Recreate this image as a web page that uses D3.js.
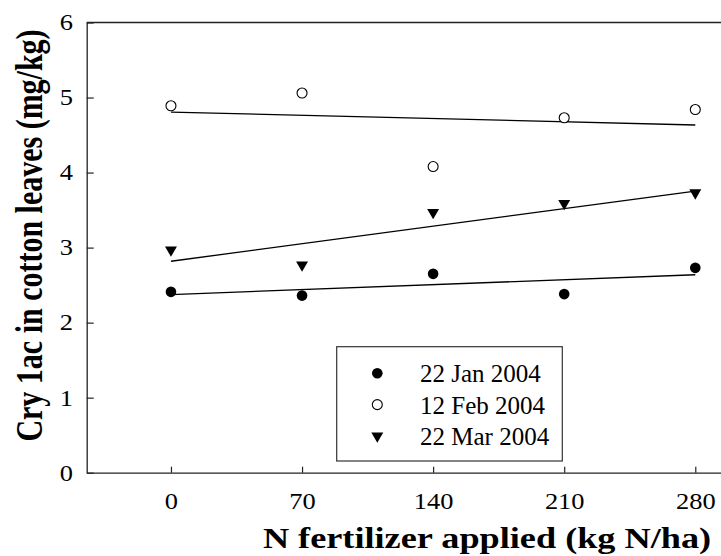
<!DOCTYPE html>
<html>
<head>
<meta charset="utf-8">
<script src="https://cdn.jsdelivr.net/npm/d3@7"></script>
<style>
  body { margin: 0; background: #fff; }
  svg { display: block; font-family: "Liberation Serif", "Times New Roman", serif; }
</style>
</head>
<body>
<div id="chart"></div>
<script>
// N rates and Cry1Ac readings per sampling date
var nRates = [0, 70, 140, 210, 280];
var jan22 = [2.41, 2.36, 2.65, 2.38, 2.73];
var feb12 = [4.89, 5.06, 4.08, 4.73, 4.84];
var mar22 = [2.95, 2.75, 3.45, 3.57, 3.71];
var seriesNames = ["22 Jan 2004", "12 Feb 2004", "22 Mar 2004"];
var xTicks = [0, 70, 140, 210, 280];
var yTicks = [0, 1, 2, 3, 4, 5, 6];

var width = 721, height = 556;
var sx = 1.15; // picture is a bit wider than tall

var svg = d3.select("#chart").append("svg")
    .attr("width", width)
    .attr("height", height);

var x = d3.scaleLinear().domain([-45, 305]).range([86.7, 742.1]);
var y = d3.scaleLinear().domain([0, 6]).range([472.7, 22.5]);

// least squares fit for trend lines
function fit(xs, ys) {
    var mx = d3.mean(xs), my = d3.mean(ys);
    var sxy = d3.sum(xs, function (d, i) { return (d - mx) * (ys[i] - my); });
    var sxx = d3.sum(xs, function (d) { return (d - mx) * (d - mx); });
    var b = sxy / sxx;
    return function (v) { return my + b * (v - mx); };
}

var series = [
    { name: seriesNames[0], values: jan22, shape: "filled" },
    { name: seriesNames[1], values: feb12, shape: "open" },
    { name: seriesNames[2], values: mar22, shape: "tri" }
];

// axes
var xAxis = svg.append("g")
    .attr("transform", "translate(0," + y(0) + ")")
    .call(d3.axisBottom(x).tickValues(xTicks).tickFormat(d3.format("d"))
        .tickSizeInner(-6).tickSizeOuter(0).tickPadding(20));
var yAxis = svg.append("g")
    .attr("transform", "translate(" + x.range()[0] + ",0)")
    .call(d3.axisLeft(y).tickValues(yTicks).tickFormat(d3.format("d"))
        .tickSizeInner(-7).tickSizeOuter(0).tickPadding(12));

[xAxis, yAxis].forEach(function (a) {
    a.select(".domain").attr("stroke", "#222").attr("stroke-width", 1.3);
    a.selectAll(".tick line").attr("stroke", "#222").attr("stroke-width", 1.2);
    a.selectAll(".tick text")
        .attr("fill", "#000")
        .style("font-size", "23px")
        .style("font-family", "Liberation Serif, Times New Roman, serif")
        .attr("transform", "scale(" + sx + ",1)");
});

// top border
svg.append("line")
    .attr("x1", x.range()[0]).attr("x2", width)
    .attr("y1", y(6)).attr("y2", y(6))
    .attr("stroke", "#222").attr("stroke-width", 1.3);

// trend lines
series.forEach(function (s) {
    var f = fit(nRates, s.values);
    svg.append("line")
        .attr("x1", x(nRates[0])).attr("y1", y(f(nRates[0])))
        .attr("x2", x(nRates[nRates.length - 1])).attr("y2", y(f(nRates[nRates.length - 1])))
        .attr("stroke", "#000").attr("stroke-width", 1.3);
});

var tri = d3.symbol().type(d3.symbolTriangle).size(62);

function drawMarker(g, shape) {
    if (shape === "filled") {
        g.append("circle").attr("r", 5.3).attr("fill", "#000");
    } else if (shape === "open") {
        g.append("circle").attr("r", 5).attr("fill", "#fff").attr("stroke", "#000").attr("stroke-width", 1.1);
    } else {
        g.append("path").attr("d", tri()).attr("transform", "rotate(180)").attr("fill", "#000");
    }
}

// points
series.forEach(function (s) {
    svg.selectAll(null)
        .data(s.values)
        .enter().append("g")
        .attr("transform", function (d, i) {
            var dy = s.shape === "tri" ? -1.5 : 0;
            return "translate(" + x(nRates[i]) + "," + (y(d) + dy) + ")";
        })
        .each(function () { drawMarker(d3.select(this), s.shape); });
});

// legend
var legend = svg.append("g");
legend.append("rect")
    .attr("x", 336.7).attr("y", 346.7)
    .attr("width", 225.6).attr("height", 114.3)
    .attr("fill", "#fff").attr("stroke", "#333").attr("stroke-width", 1.2);

series.forEach(function (s, i) {
    var cy = 373.3 + i * 31.3;
    var m = legend.append("g").attr("transform", "translate(377.3," + cy + ")");
    drawMarker(m, s.shape);
    legend.append("text")
        .attr("x", 420).attr("y", cy + 9)
        .style("font-size", "25px")
        .text(s.name);
});

// axis titles
svg.append("text")
    .attr("transform", "translate(487,548) scale(1.25,1)")
    .attr("text-anchor", "middle")
    .style("font-size", "29px")
    .style("font-weight", "bold")
    .text("N fertilizer applied (kg N/ha)");

svg.append("text")
    .attr("transform", "translate(42,235.5) scale(1.25,1) rotate(-90)")
    .attr("text-anchor", "middle")
    .style("font-size", "30px")
    .style("font-weight", "bold")
    .text("Cry 1ac in cotton leaves (mg/kg)");
</script>
</body>
</html>
